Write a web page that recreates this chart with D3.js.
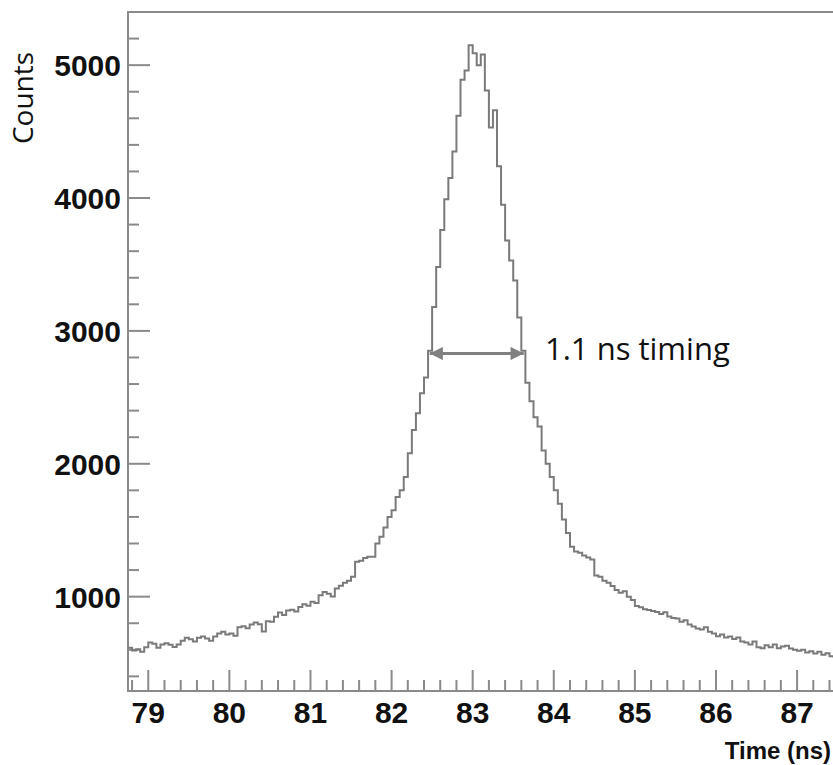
<!DOCTYPE html>
<meta charset="utf-8">
<script src="https://d3js.org/d3.v7.min.js"></script>
<style>
  body { margin: 0; background: #fff; }
</style>
<div id="my_dataviz"></div>
<script>
    // histogram binning: first bin edge and bin width (ns)
    const binStart = 78.75;
    const binWidth = 0.05;

    // counts per bin (78.75 ... 87.45)
    const counts = [
        615, 595, 605, 585, 620,
        655, 645, 615, 640, 650, 638, 622, 640, 668, 690,
        680, 662, 690, 700, 686, 668, 700, 722, 735, 715,
        722, 705, 770, 778, 762, 790, 806, 792, 738, 815,
        812, 848, 880, 862, 895, 902, 888, 922, 942, 932,
        962, 952, 1010, 1035, 1022, 1002, 1062, 1082, 1105, 1120,
        1150, 1263, 1270, 1290, 1300, 1300, 1400, 1450, 1520, 1600,
        1650, 1750, 1800, 1900, 2080, 2255, 2380, 2530, 2650, 2850,
        3180, 3480, 3760, 3990, 4150, 4350, 4620, 4890, 4960, 5150,
        5090, 5000, 5080, 4810, 4530, 4660, 4240, 3950, 3680, 3530,
        3380, 3100, 2850, 2610, 2470, 2350, 2280, 2100, 2000, 1900,
        1800, 1700, 1580, 1480, 1375, 1340, 1330, 1310, 1295, 1280,
        1160, 1150, 1120, 1105, 1080, 1050, 1030, 1040, 1000, 975,
        930, 920, 905, 900, 892, 885, 870, 882, 850, 840,
        835, 812, 822, 790, 775, 760, 752, 770, 735, 722,
        702, 715, 692, 700, 682, 692, 662, 655, 640, 662,
        620, 612, 635, 620, 640, 612, 625, 630, 610, 600,
        592, 600, 580, 590, 572, 585, 562, 575, 552, 548
    ];

    // axis ticks and annotation
    const xTicks = [79, 80, 81, 82, 83, 84, 85, 86, 87];
    const yTicks = [1000, 2000, 3000, 4000, 5000];
    const fwhm = { from: 82.47, to: 83.63, level: 2830, label: "1.1 ns timing" };

    const W = 833, H = 765;
    const svg = d3.select("#my_dataviz")
        .append("svg")
        .attr("width", W)
        .attr("height", H)
        .style("font-family", "'Liberation Sans', Arial, sans-serif");

    const x = d3.scaleLinear()
        .domain([binStart, binStart + counts.length * binWidth])
        .range([128, 128 + counts.length * binWidth * 81.1]);
    const y = d3.scaleLinear()
        .domain([290, 5400])
        .range([691, 12]);

    const frameColor = "#8a8a8a";

    // frame (right side falls outside the picture)
    svg.append("rect")
        .attr("x", x.range()[0])
        .attr("y", y.range()[1])
        .attr("width", x.range()[1] - x.range()[0])
        .attr("height", y.range()[0] - y.range()[1])
        .attr("fill", "none")
        .attr("stroke", frameColor)
        .attr("stroke-width", 2);

    // x ticks: majors every 1 ns, minors every 0.2 ns
    const xMinor = d3.range(788, 875, 2).map(function (d) { return d / 10; });
    svg.append("g").selectAll("line")
        .data(xMinor)
        .join("line")
        .attr("x1", function (d) { return x(d); })
        .attr("x2", function (d) { return x(d); })
        .attr("y1", y.range()[0])
        .attr("y2", function (d) { return xTicks.includes(d) ? y.range()[0] - 21 : y.range()[0] - 11; })
        .attr("stroke", frameColor)
        .attr("stroke-width", 2);

    svg.append("g").selectAll("text")
        .data(xTicks)
        .join("text")
        .attr("x", function (d) { return x(d); })
        .attr("y", 723)
        .attr("text-anchor", "middle")
        .attr("font-size", 30)
        .attr("font-weight", "bold")
        .attr("fill", "#111")
        .text(function (d) { return d; });

    // y ticks: majors every 1000, minors every 200
    const yMinor = d3.range(400, 5400, 200);
    svg.append("g").selectAll("line")
        .data(yMinor)
        .join("line")
        .attr("x1", x.range()[0])
        .attr("x2", function (d) { return d % 1000 === 0 ? x.range()[0] + 22 : x.range()[0] + 11; })
        .attr("y1", function (d) { return y(d); })
        .attr("y2", function (d) { return y(d); })
        .attr("stroke", frameColor)
        .attr("stroke-width", 2);

    svg.append("g").selectAll("text")
        .data(yTicks)
        .join("text")
        .attr("x", 121)
        .attr("y", function (d) { return y(d) + 11; })
        .attr("text-anchor", "end")
        .attr("font-size", 30)
        .attr("font-weight", "bold")
        .attr("fill", "#111")
        .text(function (d) { return d; });

    // axis titles
    svg.append("text")
        .attr("transform", "translate(33, 98) rotate(-90)")
        .attr("text-anchor", "middle")
        .attr("font-family", "'Open Sans', sans-serif")
        .attr("font-size", 28)
        .attr("fill", "#111")
        .text("Counts");

    svg.append("text")
        .attr("x", 831)
        .attr("y", 759)
        .attr("text-anchor", "end")
        .attr("font-size", 24)
        .attr("font-weight", "bold")
        .attr("fill", "#111")
        .text("Time (ns)");

    // histogram outline
    const pts = counts.map(function (c, i) { return [binStart + i * binWidth, c]; });
    pts.push([binStart + counts.length * binWidth, counts[counts.length - 1]]);
    svg.append("path")
        .datum(pts)
        .attr("fill", "none")
        .attr("stroke", "#7a7a7a")
        .attr("stroke-width", 2)
        .attr("d", d3.line()
            .x(function (d) { return x(d[0]); })
            .y(function (d) { return y(d[1]); })
            .curve(d3.curveStepAfter));

    // double arrow for the timing width
    const defs = svg.append("defs");
    defs.append("marker")
        .attr("id", "head")
        .attr("viewBox", "0 0 10 10")
        .attr("refX", 10)
        .attr("refY", 5)
        .attr("markerWidth", 6)
        .attr("markerHeight", 4.4)
        .attr("markerUnits", "strokeWidth")
        .attr("orient", "auto-start-reverse")
        .append("path")
        .attr("d", "M0,0 L10,5 L0,10 Z")
        .attr("fill", "#808080");

    svg.append("line")
        .attr("x1", x(fwhm.from))
        .attr("x2", x(fwhm.to))
        .attr("y1", y(fwhm.level))
        .attr("y2", y(fwhm.level))
        .attr("stroke", "#808080")
        .attr("stroke-width", 3)
        .attr("marker-start", "url(#head)")
        .attr("marker-end", "url(#head)");

    svg.append("text")
        .attr("x", 545)
        .attr("y", y(fwhm.level) + 7)
        .attr("font-family", "'Open Sans', sans-serif")
        .attr("font-size", 31)
        .attr("fill", "#111")
        .text(fwhm.label);
</script>
